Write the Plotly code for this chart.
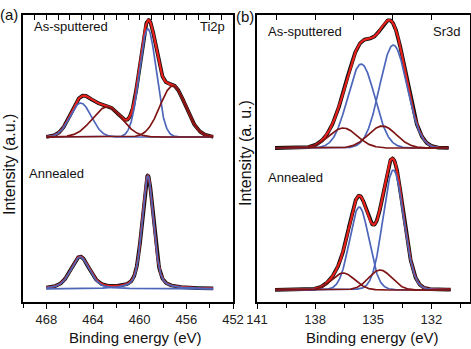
import numpy as np
import plotly.graph_objects as go

# ---------------- data ----------------
# Ti2p, as-sputtered: fitted components (binding energy eV, height a.u., FWHM eV, Lorentz fraction)
ti_as_kind    = ["main", "main", "minor", "minor"]
ti_as_center  = [459.3, 465.06, 457.16, 462.8]
ti_as_height  = [108, 34, 51, 30]
ti_as_fwhm    = [1.7, 2.15, 2.6, 3.0]
ti_as_lor     = [0.0, 0.0, 0.0, 0.0]
ti_as_base    = 165
ti_as_span    = [468.0, 453.7]

# Ti2p, annealed
ti_an_kind    = ["main", "main"]
ti_an_center  = [459.3, 465.1]
ti_an_height  = [113, 32]
ti_an_fwhm    = [1.15, 1.9]
ti_an_lor     = [0.4, 0.4]
ti_an_base    = 13
ti_an_span    = [468.0, 453.7]

# Sr3d, as-sputtered
sr_as_kind    = ["main", "main", "minor", "minor"]
sr_as_center  = [133.96, 135.62, 134.53, 136.55]
sr_as_height  = [103, 84, 22, 20]
sr_as_fwhm    = [1.65, 1.65, 1.7, 1.7]
sr_as_lor     = [0.0, 0.0, 0.0, 0.0]
sr_as_base    = 154
sr_as_span    = [140.07, 131.1]

# Sr3d, annealed
sr_an_kind    = ["main", "main", "minor", "minor"]
sr_an_center  = [133.96, 135.72, 134.64, 136.55]
sr_an_height  = [120, 83, 20, 17]
sr_an_fwhm    = [1.25, 1.18, 1.4, 1.4]
sr_an_lor     = [0.05, 0.05, 0.0, 0.0]
sr_an_base    = 12
sr_an_span    = [140.07, 131.0]

ti_ticks_major = [468, 464, 460, 456, 452]
sr_ticks_major = [141, 138, 135, 132]

# ---------------- styling ----------------
W, H = 471, 349
FONT = "Liberation Sans, Arial, sans-serif"
C_DATA = "#111111"
C_SUM = "#e8201c"
C_MAIN = "#4d66ba"
C_MINOR = "#7e1414"
kind_color = {"main": C_MAIN, "minor": C_MINOR}


def pv(x, c, h, w, m):
    g = np.exp(-4 * np.log(2) * (x - c) ** 2 / w ** 2)
    l = 1.0 / (1.0 + 4 * (x - c) ** 2 / w ** 2)
    return h * ((1 - m) * g + m * l)


fig = go.Figure()


def add_spectrum(kind, cen, hei, fw, lor, base, span, xa, ya):
    x = np.linspace(span[0], span[1], 500)
    comps = [pv(x, c, h, w, m) for c, h, w, m in zip(cen, hei, fw, lor)]
    total = base + np.sum(comps, axis=0)
    common = dict(xaxis=xa, yaxis=ya, mode="lines", showlegend=False, hoverinfo="skip")
    fig.add_trace(go.Scatter(x=x, y=total, line=dict(color=C_DATA, width=3.8), **common))
    fig.add_trace(go.Scatter(x=x, y=total, line=dict(color=C_SUM, width=2.2), **common))
    order = [i for i, k in enumerate(kind) if k == "main"] + [i for i, k in enumerate(kind) if k == "minor"]
    for i in order:
        fig.add_trace(go.Scatter(x=x, y=base + comps[i],
                                 line=dict(color=kind_color[kind[i]], width=1.7), **common))


add_spectrum(ti_as_kind, ti_as_center, ti_as_height, ti_as_fwhm, ti_as_lor, ti_as_base, ti_as_span, "x", "y")
add_spectrum(ti_an_kind, ti_an_center, ti_an_height, ti_an_fwhm, ti_an_lor, ti_an_base, ti_an_span, "x", "y")
add_spectrum(sr_as_kind, sr_as_center, sr_as_height, sr_as_fwhm, sr_as_lor, sr_as_base, sr_as_span, "x2", "y2")
add_spectrum(sr_an_kind, sr_an_center, sr_an_height, sr_an_fwhm, sr_an_lor, sr_an_base, sr_an_span, "x2", "y2")

# dummy traces so the top tick axes exist
fig.add_trace(go.Scatter(x=[460], y=[-100], xaxis="x3", yaxis="y", mode="markers",
                         marker=dict(size=1, opacity=0), showlegend=False, hoverinfo="skip"))
fig.add_trace(go.Scatter(x=[135], y=[-100], xaxis="x4", yaxis="y2", mode="markers",
                         marker=dict(size=1, opacity=0), showlegend=False, hoverinfo="skip"))


def px(xp):
    return xp / W


def py(yp):
    return 1 - yp / H


ydom = [py(302), py(15)]
ti_range = [470.0, 452.0]
sr_range = [141.0, 130.0]

axis_common = dict(showline=True, linecolor="black", linewidth=1.5, mirror=True,
                   showgrid=False, zeroline=False, automargin=False,
                   tickfont=dict(family=FONT, size=13, color="#222"),
                   ticks="outside", ticklen=5, tickwidth=1.2, tickcolor="black")
top_common = dict(showgrid=False, zeroline=False, showline=False, showticklabels=False,
                  automargin=False, tickmode="linear", ticks="inside", ticklen=5,
                  tickwidth=1.2, tickcolor="black")
y_common = dict(domain=ydom, range=[0, 287], showline=True, linecolor="black",
                linewidth=1.5, mirror=True, showgrid=False, zeroline=False,
                showticklabels=False, ticks="", automargin=False)

fig.update_layout(
    template="none",
    width=W, height=H, margin=dict(l=0, r=0, t=0, b=0, pad=0, autoexpand=False), autosize=False,
    paper_bgcolor="white", plot_bgcolor="white",
    xaxis=dict(domain=[px(23), px(233)], range=ti_range, anchor="y",
               tickmode="array", tickvals=ti_ticks_major, ticktext=[str(t) for t in ti_ticks_major],
               minor=dict(tickmode="linear", tick0=454, dtick=4, ticks="outside", ticklen=4,
                          tickwidth=1.2, tickcolor="black"),
               **axis_common),
    xaxis2=dict(domain=[px(257), px(470)], range=sr_range, anchor="y2",
                tickmode="array", tickvals=sr_ticks_major, ticktext=[str(t) for t in sr_ticks_major],
                minor=dict(tickmode="linear", tick0=130.5, dtick=3, ticks="outside", ticklen=4,
                           tickwidth=1.2, tickcolor="black"),
                **axis_common),
    xaxis3=dict(overlaying="x", side="top", anchor="y", range=ti_range, tick0=452, dtick=1,
                **top_common),
    xaxis4=dict(overlaying="x2", side="top", anchor="y2", range=sr_range, tick0=130, dtick=2,
                **top_common),
    yaxis=dict(anchor="x", **y_common),
    yaxis2=dict(anchor="x2", **y_common),
)


def ann(text, x, y, size=13, xanchor="left", angle=0):
    fig.add_annotation(text=text, x=px(x), y=py(y), xref="paper", yref="paper",
                       xanchor=xanchor, yanchor="middle", showarrow=False, textangle=angle,
                       font=dict(family=FONT, size=size, color="#111"))


ann("(a)", 9, 14, size=15, xanchor="center")
ann("(b)", 245, 16, size=15, xanchor="center")
ann("As-sputtered", 32, 27)
ann("Ti2p", 227, 27, xanchor="right")
ann("Annealed", 27, 173)
ann("As-sputtered", 266, 31)
ann("Sr3d", 462, 31, xanchor="right")
ann("Annealed", 266, 177)
ann("Intensity (a.u.)", 10, 165, size=16, xanchor="center", angle=-90)
ann("Intensity (a. u.)", 245, 153, size=16, xanchor="center", angle=-90)
ann("Binding energy (eV)", 135, 337, size=15, xanchor="center")
ann("Binding energy (eV)", 372, 337, size=15, xanchor="center")

fig.write_html("out.html", config={"displayModeBar": False},
               post_script="document.body.style.margin='0';document.body.style.overflow='hidden';")
